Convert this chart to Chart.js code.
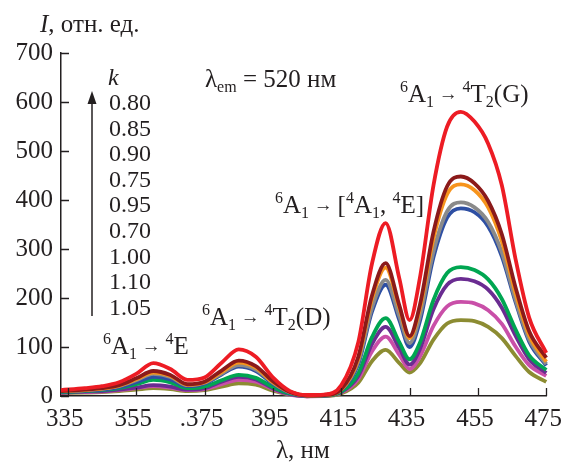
<html><head><meta charset="UTF-8">
<script src="https://cdn.jsdelivr.net/npm/chart.js"></script>
</head><body style="margin:0">
<div style="width:573px;height:464px"><canvas id="spectra"></canvas></div>
<script>
// wavelengths, nm
const wl = [333, 340, 345, 350, 355, 360, 365, 370, 375, 380, 385, 390, 395, 400, 405, 410,
            415, 420, 424, 428, 432, 435, 438, 442, 446, 450, 454, 458, 462, 466, 470, 475];

// intensity, arb. units (one array per k)
const k080 = [12, 16, 20, 28, 45, 67, 55, 33, 38, 68, 95, 80, 38, 10, 2, 3,
              22, 110, 270, 353, 240, 155, 240, 430, 550, 580, 560, 515, 430, 280, 160, 88];
const k085 = [10, 13, 16, 22, 36, 51, 43, 24, 29, 52, 72, 61, 30, 8, 1, 2,
              14, 80, 205, 271, 185, 122, 185, 335, 428, 448, 434, 398, 330, 222, 132, 78];
const k090 = [10, 12, 15, 21, 34, 48, 41, 23, 28, 49, 68, 58, 28, 8, 1, 2,
              13, 76, 198, 262, 180, 118, 178, 322, 412, 432, 420, 385, 316, 210, 124, 70];
const k075 = [10, 12, 15, 20, 32, 45, 39, 22, 27, 46, 63, 54, 27, 7, 1, 2,
              13, 70, 180, 237, 163, 108, 162, 295, 377, 395, 385, 355, 293, 197, 116, 65];
const k095 = [9, 11, 13, 18, 28, 39, 34, 20, 25, 44, 60, 51, 25, 6, 1, 2,
              12, 65, 172, 227, 155, 100, 152, 283, 364, 383, 375, 346, 285, 192, 111, 62];
const k070 = [8, 10, 12, 16, 24, 33, 28, 16, 19, 32, 43, 37, 18, 5, 1, 1,
              9, 46, 120, 159, 110, 75, 108, 196, 251, 263, 257, 238, 198, 136, 83, 53];
const k100 = [7, 9, 10, 13, 17, 22, 19, 13, 16, 29, 39, 34, 16, 4, 0, 1,
              8, 41, 106, 141, 98, 64, 95, 177, 227, 239, 234, 217, 180, 123, 75, 47];
const k110 = [7, 8, 9, 12, 16, 20, 17, 12, 14, 24, 33, 29, 14, 3, -1, 0,
              7, 35, 91, 121, 84, 55, 80, 143, 183, 192, 189, 175, 147, 101, 63, 41];
const k105 = [6, 7, 8, 10, 13, 16, 14, 10, 12, 19, 26, 23, 11, 3, 0, 0,
              5, 27, 71, 94, 67, 48, 66, 115, 148, 155, 153, 141, 118, 82, 49, 29];

const kLabels = ['0.80', '0.85', '0.90', '0.75', '0.95', '0.70', '1.00', '1.10', '1.05'];
const series = [k080, k085, k090, k075, k095, k070, k100, k110, k105];
const colors = ['#ed1c24', '#8b1a1a', '#f7941d', '#8a8a8a', '#2e4fa3',
                '#00a651', '#6a2c91', '#c94fa8', '#8c8c32'];

const xTicks = [335, 355, 375, 395, 415, 435, 455, 475];
const yTicks = [0, 100, 200, 300, 400, 500, 600, 700];

// generic family: resolves to the installed Times-like face
const SERIF = 'serif';
const INK = '#231f20';
Chart.defaults.font.family = SERIF;

// text with superscripts / subscripts: parts = [[text, mode], ...]
function rich(ctx, x, y, parts, size) {
    ctx.save();
    ctx.textBaseline = 'alphabetic';
    ctx.textAlign = 'left';
    ctx.fillStyle = INK;
    for (const [t, mode] of parts) {
        let fs = size, dy = 0;
        if (mode === 'sup') { fs = size * 0.64; dy = -size * 0.42; }
        if (mode === 'sub') { fs = size * 0.64; dy = size * 0.2; }
        if (mode === 'arr') { fs = size * 0.75; dy = -size * 0.1; }
        ctx.font = (mode === 'it' ? 'italic ' : '') + Math.round(fs) + 'px ' + SERIF;
        ctx.fillText(t, x, y + dy);
        x += ctx.measureText(t).width;
    }
    ctx.restore();
}

const decor = {
    id: 'decor',
    afterDraw(chart) {
        const ctx = chart.ctx;
        const xs = chart.scales.x, ys = chart.scales.y;
        const area = chart.chartArea;

        // inward tick marks
        ctx.save();
        ctx.strokeStyle = INK;
        ctx.lineWidth = 1.3;
        ctx.beginPath();
        xTicks.forEach(v => {
            const px = Math.round(xs.getPixelForValue(v)) + 0.5;
            ctx.moveTo(px, area.bottom);
            ctx.lineTo(px, area.bottom - 8);
        });
        yTicks.forEach(v => {
            const py = Math.round(ys.getPixelForValue(v)) + 0.5;
            ctx.moveTo(area.left, py);
            ctx.lineTo(area.left + 8, py);
        });
        ctx.stroke();
        ctx.restore();

        // axis titles
        rich(ctx, 40, 32, [['I', 'it'], [', отн. ед.', '']], 25);
        rich(ctx, 276, 458, [['λ, нм', '']], 25);

        // k legend with arrow
        rich(ctx, 108, 85, [['k', 'it']], 24);
        ctx.save();
        ctx.font = '24px ' + SERIF;
        ctx.fillStyle = INK;
        kLabels.forEach((t, i) => ctx.fillText(t, 109, 110 + i * 25.6));
        ctx.strokeStyle = INK;
        ctx.lineWidth = 1.5;
        ctx.beginPath();
        ctx.moveTo(92, 316);
        ctx.lineTo(92, 100);
        ctx.stroke();
        ctx.beginPath();
        ctx.moveTo(92, 91);
        ctx.lineTo(87.5, 104);
        ctx.lineTo(96.5, 104);
        ctx.closePath();
        ctx.fill();
        ctx.restore();

        // band assignments
        const A = '→';
        rich(ctx, 205, 87, [['λ', ''], ['em', 'sub'], [' = 520 нм', '']], 25);
        rich(ctx, 400, 102, [['6', 'sup'], ['A', ''], ['1', 'sub'], [' ' + A + ' ', 'arr'],
                             ['4', 'sup'], ['T', ''], ['2', 'sub'], ['(G)', '']], 25);
        rich(ctx, 275, 213, [['6', 'sup'], ['A', ''], ['1', 'sub'], [' ' + A + ' ', 'arr'], ['[', ''],
                             ['4', 'sup'], ['A', ''], ['1', 'sub'], [', ', ''], ['4', 'sup'], ['E]', '']], 25);
        rich(ctx, 202, 325, [['6', 'sup'], ['A', ''], ['1', 'sub'], [' ' + A + ' ', 'arr'],
                             ['4', 'sup'], ['T', ''], ['2', 'sub'], ['(D)', '']], 25);
        rich(ctx, 103, 354, [['6', 'sup'], ['A', ''], ['1', 'sub'], [' ' + A + ' ', 'arr'],
                             ['4', 'sup'], ['E', '']], 25);
    }
};

const datasets = series.map((vals, i) => ({
    label: 'k = ' + kLabels[i],
    data: wl.map((x, j) => ({ x: x, y: vals[j] })),
    borderColor: colors[i],
    borderWidth: 3.8,
    pointRadius: 0,
    cubicInterpolationMode: 'monotone',
    fill: false,
    clip: false,
    order: i
}));

const chart = new Chart(document.getElementById('spectra'), {
    type: 'line',
    data: { datasets: datasets },
    options: {
        animation: false,
        maintainAspectRatio: false,
        layout: { padding: { top: 53, right: 15, bottom: 0, left: 0 } },
        plugins: { legend: { display: false }, tooltip: { enabled: false } },
        scales: {
            x: {
                type: 'linear',
                min: 333,
                max: 475,
                afterBuildTicks: s => { s.ticks = xTicks.map(v => ({ value: v })); },
                afterFit: s => { s.height = 68; },
                grid: { display: false, drawTicks: false },
                border: { display: true, color: INK, width: 1.5 },
                ticks: {
                    color: INK,
                    font: { family: SERIF, size: 25 },
                    padding: 8,
                    labelOffset: -3,
                    maxRotation: 0,
                    autoSkip: false,
                    callback: v => (v === 375 ? '.375' : String(v))
                }
            },
            y: {
                min: 0,
                max: 700,
                afterBuildTicks: s => { s.ticks = yTicks.map(v => ({ value: v })); },
                afterFit: s => { s.width = 61; },
                grid: { display: false, drawTicks: false },
                border: { display: true, color: INK, width: 1.5 },
                ticks: {
                    color: INK,
                    font: { family: SERIF, size: 25 },
                    padding: 8
                }
            }
        }
    },
    plugins: [decor]
});

// redraw once fonts are settled
if (document.fonts && document.fonts.ready) {
    document.fonts.ready.then(() => chart.update('none'));
}
</script>
</body></html>
